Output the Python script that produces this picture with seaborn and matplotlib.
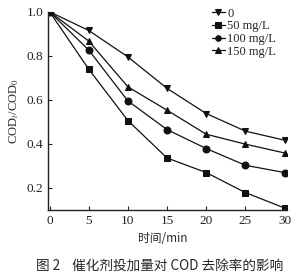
import matplotlib
matplotlib.use("Agg")
import matplotlib.pyplot as plt
import seaborn as sns
import pandas as pd

time_min = [0, 5, 10, 15, 20, 25, 30]
dose_labels = ["0", "50 mg/L", "100 mg/L", "150 mg/L"]
cod_0 = [1.0, 0.915, 0.795, 0.652, 0.538, 0.458, 0.417]
cod_50 = [1.0, 0.739, 0.506, 0.336, 0.270, 0.179, 0.109]
cod_100 = [1.0, 0.826, 0.595, 0.465, 0.379, 0.303, 0.270]
cod_150 = [1.0, 0.867, 0.659, 0.553, 0.444, 0.399, 0.359]
x_ticks = [0, 5, 10, 15, 20, 25, 30]
y_ticks = [0.2, 0.4, 0.6, 0.8, 1.0]

series = [cod_0, cod_50, cod_100, cod_150]
markers = ["v", "s", "o", "^"]

rows = []
for lab, vals in zip(dose_labels, series):
    for t, v in zip(time_min, vals):
        rows.append({"time": t, "ratio": v, "dose": lab})
df = pd.DataFrame(rows)

sns.set_style("ticks")
plt.rcParams['font.family'] = ['Liberation Serif', 'Noto Sans CJK SC', 'DejaVu Sans']
plt.rcParams['mathtext.fontset'] = 'stix'

fig = plt.figure(figsize=(3.02, 2.80), dpi=100)
ax = fig.add_axes([0.159, 0.25, 0.791, 0.708])

sns.lineplot(data=df, x="time", y="ratio", hue="dose", style="dose",
             hue_order=dose_labels, style_order=dose_labels,
             palette=["#111111"] * 4, markers=markers, dashes=False,
             markersize=5, linewidth=0.9, markeredgecolor="#111111",
             ax=ax)

ax.set_xlim(-0.2, 30.3)
ax.set_ylim(0.1, 1.0)
ax.set_xticks(x_ticks)
ax.set_yticks(y_ticks)
ax.set_xticklabels([str(t) for t in x_ticks])
ax.set_yticklabels([f"{v:.1f}" for v in y_ticks])
ax.tick_params(direction="in", length=3, width=0.8, labelsize=9.5, colors="#222222")
for s in ["top", "right"]:
    ax.spines[s].set_visible(False)
for s in ["left", "bottom"]:
    ax.spines[s].set_linewidth(1.0)
    ax.spines[s].set_color("#222222")

ax.set_xlabel("时间/min", fontsize=8.5, labelpad=3, family=['Noto Sans CJK SC', 'Liberation Serif'])
ax.xaxis.set_label_coords(0.48, -0.11)
ax.set_ylabel(r"COD$_t$/COD$_0$", fontsize=9, labelpad=4)

leg = ax.legend(loc="upper right", bbox_to_anchor=(0.975, 1.045), frameon=False,
                fontsize=9, handlelength=1.0, handletextpad=0.2,
                labelspacing=0.05, borderaxespad=0.0)
for h in leg.legend_handles:
    h.set_markersize(4)

fig.text(0.53, 0.025, "图 2    催化剂投加量对 COD 去除率的影响", ha="center", va="bottom",
         fontsize=9.8, family=['Noto Sans CJK SC', 'Liberation Serif'])

fig.savefig("out.png", dpi=100, facecolor="white")
